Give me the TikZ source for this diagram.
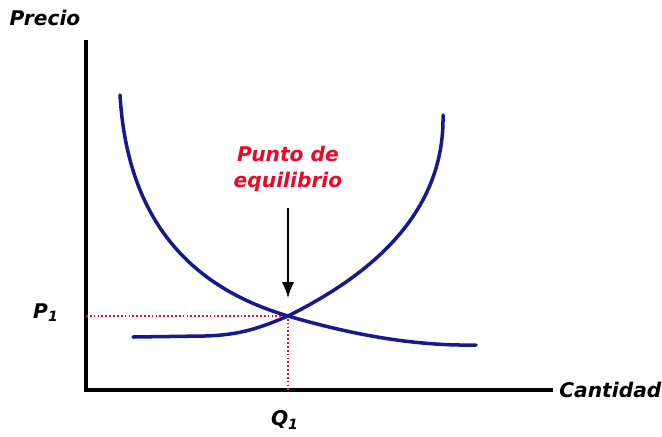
\documentclass[tikz,border=0pt]{standalone}
\usepackage{fontspec}
\setmainfont{DejaVu Sans}
\usepackage{tikz}
\usetikzlibrary{arrows.meta,positioning}
\definecolor{CurveBlue}{RGB}{25,25,140}
\definecolor{EqRed}{RGB}{232,10,40}

\begin{document}
\begin{tikzpicture}[
    x=0.02cm, y=-0.02cm,
    lbl/.style={font=\fontsize{11.5}{13}\selectfont\bfseries\itshape, inner sep=0pt},
    axis/.style={line width=1.8pt, black},
    curve/.style={line width=2pt, CurveBlue, line cap=round},
    guide/.style={line width=1.4pt, EqRed, dash pattern=on 1pt off 1.2pt}
  ]
  \useasboundingbox (0,0) rectangle (662,436);

  % axes
  \coordinate (ytop) at (86,40);
  \coordinate (orig) at (86,390);
  \coordinate (xend) at (553,390);
  \draw[axis] (ytop) -- (orig) -- (xend);
  \node[lbl, anchor=west] (cant) at (559,390) {Cantidad};
  \node[lbl] (prec) at (45,18) {Precio};

  % equilibrium point and guides
  \coordinate (eq) at (288,316);
  \coordinate (peq) at (86,316);
  \coordinate (qeq) at (288,390);
  \draw[guide] (peq) -- (eq) -- (qeq);
  \node[lbl] (p1) at (46,313) {P\textsubscript{1}};
  \node[lbl] (q1) at (285,420) {Q\textsubscript{1}};

  % demand and supply
  \draw[curve] (120,95) .. controls (128,230) and (200,290) .. (eq)
               .. controls (360,337) and (420,346) .. (476,345);
  \draw[curve] (133,337) -- (205,336) .. controls (240,335) and (260,328) .. (eq)
               .. controls (360,280) and (445,220) .. (443,115);

  % label
  \node[lbl, text=EqRed, align=center] (punto) at (288,169) {Punto de\\[2pt]equilibrio};
  \coordinate (tip) at (288,298);
  \draw[-{Latex[length=9pt,width=7pt]}, line width=1pt] (288,208) -- (tip);
\end{tikzpicture}
\end{document}
